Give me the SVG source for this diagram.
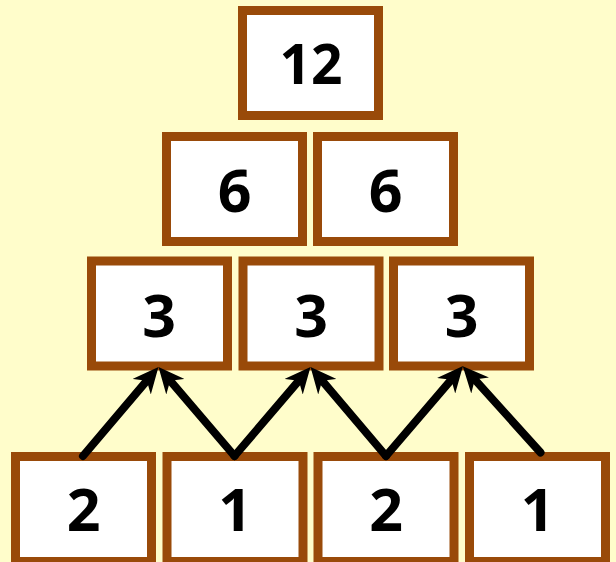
<svg xmlns="http://www.w3.org/2000/svg" width="616" height="562" viewBox="0 0 616 562">
  <style>
    .box { fill: #ffffff; stroke: #994A09; stroke-width: 9; }
    .num { font-family: "Open Sans", "Liberation Sans", sans-serif; font-weight: 700; font-size: 59px; fill: #000000; text-anchor: middle; }
    .top { font-size: 55px; }
    .arrow { fill: none; stroke: #000000; stroke-width: 8; stroke-linecap: round; marker-end: url(#head); }
  </style>
  <defs>
    <marker id="head" viewBox="0 0 26 24" refX="14" refY="12" markerWidth="26" markerHeight="24" markerUnits="userSpaceOnUse" orient="auto">
      <path d="M26,12 L0,0 L8,12 L0,24 Z" fill="#000000"/>
    </marker>
  </defs>
  <rect x="0" y="0" width="616" height="562" fill="#FFFDCB"/>

  <g id="n12">
    <rect class="box" x="242.5" y="10.5" width="136" height="105"/>
    <text class="num top" x="311" y="83.5">12</text>
  </g>

  <g id="n6a">
    <rect class="box" x="166.5" y="136.5" width="136" height="105"/>
    <text class="num" x="234.5" y="211.5">6</text>
  </g>
  <g id="n6b">
    <rect class="box" x="317.5" y="136.5" width="136" height="105"/>
    <text class="num" x="385.5" y="211.5">6</text>
  </g>

  <g id="n3a">
    <rect class="box" x="91.5" y="261" width="136" height="105"/>
    <text class="num" x="159" y="336.5">3</text>
  </g>
  <g id="n3b">
    <rect class="box" x="243" y="261" width="136" height="105"/>
    <text class="num" x="311" y="336.5">3</text>
  </g>
  <g id="n3c">
    <rect class="box" x="393.5" y="261" width="136" height="105"/>
    <text class="num" x="461.5" y="336.5">3</text>
  </g>

  <g id="n2a">
    <rect class="box" x="15.5" y="456.5" width="136" height="105"/>
    <text class="num" x="83.5" y="531">2</text>
  </g>
  <g id="n1a">
    <rect class="box" x="167" y="456.5" width="136" height="105"/>
    <text class="num" x="235" y="531">1</text>
  </g>
  <g id="n2b">
    <rect class="box" x="318" y="456.5" width="136" height="105"/>
    <text class="num" x="386" y="531">2</text>
  </g>
  <g id="n1b">
    <rect class="box" x="469.5" y="456.5" width="136" height="105"/>
    <text class="num" x="537.5" y="531">1</text>
  </g>

  <g id="connectors">
    <line class="arrow" x1="83" y1="456" x2="150.7" y2="376.1"/>
    <line class="arrow" x1="234.5" y1="456" x2="166.3" y2="376.1"/>
    <line class="arrow" x1="234.5" y1="456" x2="302.7" y2="376.1"/>
    <line class="arrow" x1="386" y1="456" x2="318.3" y2="376.1"/>
    <line class="arrow" x1="386" y1="456" x2="455.2" y2="375.1"/>
    <line class="arrow" x1="540.5" y1="452.5" x2="470.8" y2="375.1"/>
  </g>
</svg>
